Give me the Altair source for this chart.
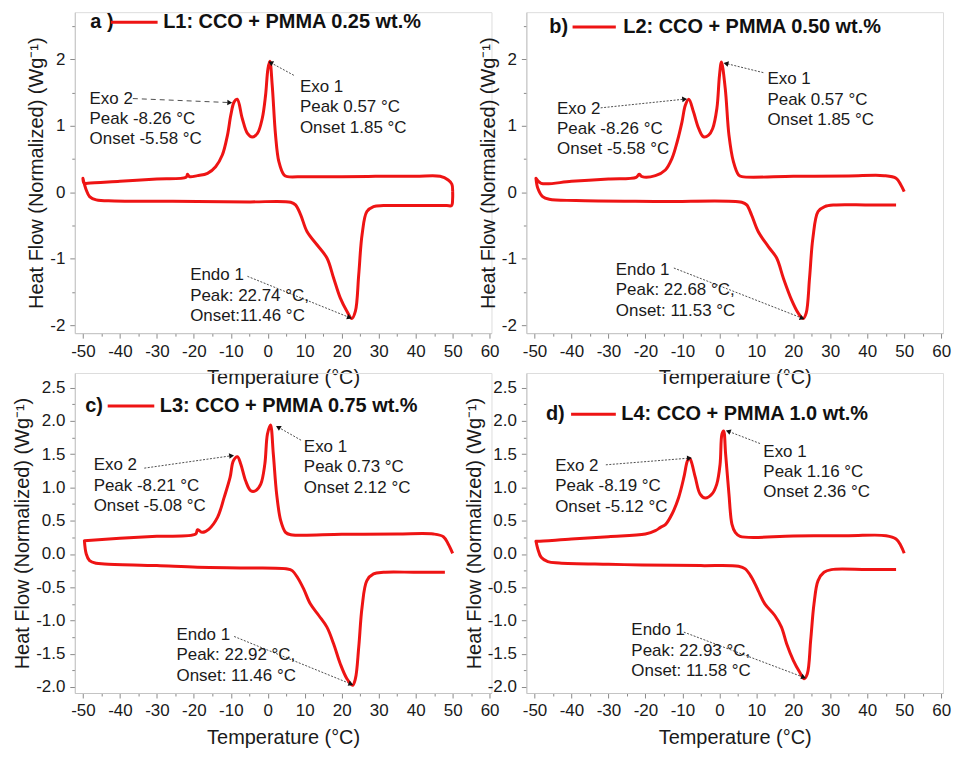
import math
import altair as alt
import pandas as pd

FONT = "Liberation Sans"
RED = "#ee1414"

# ---------------- data ----------------
# Panel a  (L1: 0.25 wt.%)
A_COOL_T = [50.0, 49.8, 48.8, 46.6, 40, 30, 20, 10, 5.3, 4.4, 3.0, 2.1, 1.2, 0.57, 0.05, -0.6, -1.5, -2.8, -4.2, -5.5, -6.9, -8.26, -9.1, -10.0, -10.9, -12.3, -14.1, -16.3, -19.0, -21.2, -21.7, -22.1, -30, -40, -48.7, -49.7, -50.0]
A_COOL_HF = [0.01, 0.12, 0.185, 0.24, 0.24, 0.24, 0.235, 0.235, 0.235, 0.26, 0.46, 0.86, 1.61, 1.97, 1.86, 1.46, 1.11, 0.885, 0.83, 0.885, 1.11, 1.40, 1.36, 1.16, 0.86, 0.56, 0.385, 0.285, 0.25, 0.235, 0.27, 0.225, 0.2, 0.165, 0.135, 0.135, 0.21]
A_HEAT_T = [-50.0, -49.1, -48.2, -46.4, -41.5, -30, -19, -5, 6.2, 7.5, 8.9, 10.6, 13.3, 16.0, 17.8, 19.6, 21.4, 22.74, 23.7, 24.6, 25.5, 26.8, 28.6, 31.3, 40, 48.4, 49.7, 50.0, 50.0]
A_HEAT_HF = [0.21, 0.035, -0.065, -0.115, -0.13, -0.135, -0.14, -0.145, -0.15, -0.19, -0.34, -0.59, -0.79, -0.99, -1.29, -1.59, -1.79, -1.90, -1.79, -1.24, -0.64, -0.29, -0.215, -0.2, -0.2, -0.2, -0.2, -0.09, 0.01]

# Panel b  (L2: 0.50 wt.%)
B_COOL_T = [50.0, 49.1, 47.8, 44.6, 35, 20, 6.1, 5.2, 3.8, 2.6, 1.6, 0.57, 0.04, -0.67, -1.8, -2.9, -4.3, -5.6, -7.0, -8.26, -9.2, -10.1, -11.4, -12.8, -14.6, -17.3, -20.9, -21.7, -22.5, -30, -40, -48.2, -49.6]
B_COOL_HF = [0.01, 0.11, 0.21, 0.25, 0.245, 0.24, 0.235, 0.26, 0.46, 0.86, 1.56, 1.96, 1.76, 1.26, 0.96, 0.86, 0.835, 0.96, 1.21, 1.40, 1.31, 1.06, 0.76, 0.51, 0.335, 0.25, 0.235, 0.27, 0.225, 0.2, 0.165, 0.135, 0.21]
B_HEAT_T = [-49.6, -49.1, -47.8, -46.0, -38.8, -16.4, 6.05, 7.4, 8.7, 10.5, 13.2, 15.5, 17.3, 19.5, 21.3, 22.68, 23.5, 24.4, 25.3, 26.7, 28.5, 31.2, 40, 47.8]
B_HEAT_HF = [0.21, 0.06, -0.065, -0.105, -0.125, -0.14, -0.15, -0.19, -0.34, -0.59, -0.815, -0.99, -1.29, -1.615, -1.815, -1.90, -1.815, -1.29, -0.69, -0.29, -0.215, -0.19, -0.19, -0.19]

# Panel c  (L3: 0.75 wt.%)
C_COOL_T = [50.0, 48.8, 47.5, 44.8, 35, 20, 6.2, 4.8, 3.5, 2.4, 1.5, 0.73, -0.1, -0.8, -1.9, -3.3, -4.6, -6.0, -7.3, -8.21, -9.3, -10.2, -11.8, -13.6, -15.9, -17.7, -19.0, -19.5, -30, -40, -49.6]
C_COOL_HF = [0.01, 0.15, 0.26, 0.30, 0.30, 0.295, 0.29, 0.325, 0.5, 0.9, 1.5, 1.94, 1.8, 1.35, 1.05, 0.95, 0.95, 1.1, 1.35, 1.46, 1.4, 1.15, 0.85, 0.55, 0.375, 0.325, 0.365, 0.3, 0.265, 0.235, 0.2]
C_HEAT_T = [-49.6, -49.1, -48.2, -46.4, -44.2, -30, -19, -5, 5.3, 6.6, 8.0, 9.7, 11.5, 13.8, 16.0, 17.8, 19.6, 21.4, 22.92, 23.7, 24.6, 25.5, 26.8, 28.6, 31.3, 40, 47.9]
C_HEAT_HF = [0.2, 0.0, -0.1, -0.14, -0.15, -0.175, -0.2, -0.21, -0.225, -0.25, -0.35, -0.525, -0.75, -0.925, -1.1, -1.35, -1.65, -1.875, -1.975, -1.875, -1.4, -0.8, -0.4, -0.3, -0.275, -0.275, -0.275]

# Panel d  (L4: 1.0 wt.%)
D_COOL_T = [50.0, 49.1, 47.8, 45.1, 35, 20, 5.6, 4.3, 3.4, 2.6, 1.7, 1.16, 0.7, 0.2, -0.7, -2.0, -3.8, -5.2, -6.5, -7.8, -8.19, -8.7, -9.6, -11.0, -12.8, -14.6, -15.9, -17.3, -20.0, -30, -40, -49.1, -49.6]
D_COOL_HF = [0.01, 0.125, 0.225, 0.275, 0.275, 0.27, 0.265, 0.325, 0.45, 0.9, 1.5, 1.85, 1.8, 1.35, 1.05, 0.9, 0.84, 0.9, 1.15, 1.42, 1.44, 1.39, 1.15, 0.85, 0.6, 0.44, 0.4, 0.35, 0.3, 0.26, 0.225, 0.19, 0.19]
D_HEAT_T = [-49.6, -49.1, -48.2, -46.4, -43.3, -30, -20.9, -5, 5.2, 7.0, 8.7, 10.5, 12.3, 15.0, 16.8, 18.2, 20.0, 21.7, 22.93, 23.8, 24.7, 25.6, 26.7, 28.3, 30.3, 40, 47.8]
D_HEAT_HF = [0.19, 0.075, -0.05, -0.115, -0.135, -0.155, -0.165, -0.175, -0.185, -0.225, -0.35, -0.55, -0.75, -0.925, -1.1, -1.35, -1.6, -1.775, -1.875, -1.8, -1.3, -0.75, -0.4, -0.275, -0.235, -0.235, -0.235]

PANEL_LABELS = ["a )", "b)", "c)", "d)"]
SERIES_NAMES = ["L1: CCO + PMMA 0.25 wt.%", "L2: CCO + PMMA 0.50 wt.%",
                "L3: CCO + PMMA 0.75 wt.%", "L4: CCO + PMMA 1.0 wt.%"]

# annotation text blocks
EXO2_TEXT = ["Exo 2\nPeak -8.26 °C\nOnset -5.58 °C", "Exo 2\nPeak -8.26 °C\nOnset -5.58 °C",
             "Exo 2\nPeak -8.21 °C\nOnset -5.08 °C", "Exo 2\nPeak -8.19 °C\nOnset -5.12 °C"]
EXO1_TEXT = ["Exo 1\nPeak 0.57 °C\nOnset 1.85 °C", "Exo 1\nPeak 0.57 °C\nOnset 1.85 °C",
             "Exo 1\nPeak 0.73 °C\nOnset 2.12 °C", "Exo 1\nPeak 1.16 °C\nOnset 2.36 °C"]
ENDO_TEXT = ["Endo 1\nPeak: 22.74 °C,\nOnset:11.46 °C", "Endo 1\nPeak: 22.68 °C,\nOnset: 11.53 °C",
             "Endo 1\nPeak: 22.92 °C,\nOnset: 11.46 °C", "Endo 1\nPeak: 22.93 °C,\nOnset: 11.58 °C"]

# annotation anchors (left edge, centre of first line) in data units
EXO2_POS = [(-48.2, 1.41), (-43.9, 1.26), (-47.1, 1.335), (-44.4, 1.325)]
EXO1_POS = [(8.7, 1.585), (13.0, 1.70), (9.75, 1.61), (11.9, 1.54)]
ENDO_POS = [(-21.0, -1.25), (-28.0, -1.165), (-24.7, -1.215), (-23.8, -1.15)]

# arrows: (T start, HF start, T end, HF end)
EXO2_ARROW = [(-36.5, 1.41, -10.5, 1.35), (-32.1, 1.27, -9.6, 1.40), (-33.4, 1.29, -10.0, 1.475), (-30.7, 1.34, -8.3, 1.44)]
EXO1_ARROW = [(7.05, 1.76, 0.95, 1.945), (11.9, 1.80, 2.0, 1.935), (9.0, 1.71, 3.0, 1.90), (11.0, 1.66, 2.6, 1.84)]
ENDO_ARROW = [(-5.5, -1.265, 21.9, -1.88), (-12.3, -1.14, 22.2, -1.89), (-9.1, -1.24, 22.3, -1.95), (-9.6, -1.175, 22.6, -1.85)]

# panel titles: label left T, HF, legend line T start/end, series text left T
TITLE_POS = [(-48.0, 2.56, -42.4, -29.8, -28.3), (-46.0, 2.485, -39.7, -28.0, -26.0),
             (-49.4, 2.225, -43.3, -30.7, -29.2), (-46.9, 2.10, -40.1, -28.0, -26.5)]

CURVES = [(A_COOL_T, A_COOL_HF, A_HEAT_T, A_HEAT_HF),
          (B_COOL_T, B_COOL_HF, B_HEAT_T, B_HEAT_HF),
          (C_COOL_T, C_COOL_HF, C_HEAT_T, C_HEAT_HF),
          (D_COOL_T, D_COOL_HF, D_HEAT_T, D_HEAT_HF)]

# ---------------- layout ----------------
W = 418
X_DOM = [-52.2, 60.5]
Y_DOMS = [[-2.12, 2.71], [-2.12, 2.71], [-2.09, 2.72], [-2.09, 2.72]]
HEIGHTS = [322, 322, 321, 321]

TICK_COLOR = "#8a8a8a"
DOMAIN_COLOR = "#c4c4c4"
LABEL_COLOR = "#1a1a1a"


def make_panel(k):
    ydom = Y_DOMS[k]
    h = HEIGHTS[k]
    top_row = k < 2
    sx = W / (X_DOM[1] - X_DOM[0])
    sy = h / (ydom[1] - ydom[0])

    xs = alt.Scale(domain=X_DOM, nice=False, zero=False)
    ys = alt.Scale(domain=ydom, nice=False, zero=False)

    x_axis = alt.Axis(
        values=list(range(-50, 61, 5)), format="d",
        labelExpr="datum.value % 10 === 0 ? replace(datum.label, '\u2212', '-') : ''",
        tickSize={"condition": {"test": "datum.value % 10 !== 0", "value": 3}, "value": 5},
        grid=False, labelFont=FONT, labelFontSize=17, labelColor=LABEL_COLOR,
        titleFont=FONT, titleFontSize=20, titleFontWeight="normal", titleColor=LABEL_COLOR,
        tickColor=TICK_COLOR, domainColor=DOMAIN_COLOR, labelPadding=5, titlePadding=9,
        labelOverlap=False, labelFlush=False)
    if top_row:
        yvals = [-2, -1.5, -1, -0.5, 0, 0.5, 1, 1.5, 2, 2.5]
        ylabel_expr = "datum.value % 1 === 0 ? replace(datum.label, '\u2212', '-') : ''"
        ytick_test = "datum.value % 1 !== 0"
        yfmt = ".0f"
    else:
        yvals = [round(-2 + 0.25 * i, 2) for i in range(19)]
        ylabel_expr = "round(datum.value * 4) % 2 === 0 ? replace(datum.label, '\u2212', '-') : ''"
        ytick_test = "round(datum.value * 4) % 2 !== 0"
        yfmt = ".1f"
    y_axis = alt.Axis(
        values=yvals, format=yfmt, labelExpr=ylabel_expr,
        tickSize={"condition": {"test": ytick_test, "value": 3}, "value": 5},
        grid=False, labelFont=FONT, labelFontSize=17, labelColor=LABEL_COLOR,
        titleFont=FONT, titleFontSize=20, titleFontWeight="normal", titleColor=LABEL_COLOR,
        tickColor=TICK_COLOR, domainColor=DOMAIN_COLOR, labelPadding=5, titlePadding=3,
        labelOverlap=False, labelFlush=False)

    X = alt.X("T:Q", scale=xs, axis=x_axis, title="Temperature (°C)")
    Y = alt.Y("HF:Q", scale=ys, axis=y_axis, title="Heat Flow (Normalized) (Wg⁻¹)")

    ct, ch, ht, hh = CURVES[k]
    T = list(ct) + list(ht)
    HF = list(ch) + list(hh)
    curve_df = pd.DataFrame({"T": T, "HF": HF, "i": list(range(len(T)))})
    curve = alt.Chart(curve_df).mark_line(
        color=RED, strokeWidth=3, interpolate="catmull-rom", strokeJoin="round"
    ).encode(x=X, y=Y, order="i:Q")

    # annotation text
    ann_df = pd.DataFrame({
        "T": [EXO2_POS[k][0], EXO1_POS[k][0], ENDO_POS[k][0]],
        "HF": [EXO2_POS[k][1], EXO1_POS[k][1], ENDO_POS[k][1]],
        "txt": [EXO2_TEXT[k], EXO1_TEXT[k], ENDO_TEXT[k]],
    })
    ann = alt.Chart(ann_df).mark_text(
        align="left", baseline="middle", font=FONT, fontSize=17, color="#1a1a1a",
        lineBreak="\n", lineHeight=20.5
    ).encode(x=X, y=Y, text="txt:N")

    # arrows
    arrows = [EXO2_ARROW[k], EXO1_ARROW[k], ENDO_ARROW[k]]
    dash = ["long" if k == 0 else "fine", "fine", "fine"]
    ar_rows = []
    for (x1, y1, x2, y2), d in zip(arrows, dash):
        dxp = (x2 - x1) * sx
        dyp = -(y2 - y1) * sy
        ang = math.degrees(math.atan2(dxp, -dyp)) % 360
        ar_rows.append({"T": x1, "HF": y1, "T2": x2, "HF2": y2, "dash": d, "ang": ang})
    ar_df = pd.DataFrame(ar_rows)
    rules = alt.Chart(ar_df).mark_rule(color="#3a3a3a", strokeWidth=0.9).encode(
        x=X, y=Y, x2="T2:Q", y2="HF2:Q",
        strokeDash=alt.StrokeDash("dash:N", legend=None,
                                  scale=alt.Scale(domain=["long", "fine"], range=[[5, 4], [2, 1.5]])))
    heads = alt.Chart(ar_df).mark_point(shape="triangle", filled=True, size=32, color="#111111",
                                        opacity=1, strokeWidth=0).encode(
        x=alt.X("T2:Q", scale=xs, axis=x_axis, title="Temperature (°C)"),
        y=alt.Y("HF2:Q", scale=ys, axis=y_axis, title="Heat Flow (Normalized) (Wg⁻¹)"),
        angle=alt.Angle("ang:Q", scale=None))

    # panel title with legend swatch
    lx, ly, l1, l2, tx = TITLE_POS[k]
    lab_df = pd.DataFrame({"T": [lx, tx], "HF": [ly, ly], "txt": [PANEL_LABELS[k], SERIES_NAMES[k]]})
    labels = alt.Chart(lab_df).mark_text(
        align="left", baseline="middle", font=FONT, fontSize=20, fontWeight="bold", color="#111111"
    ).encode(x=X, y=Y, text="txt:N")
    sw_df = pd.DataFrame({"T": [l1], "T2": [l2], "HF": [ly]})
    swatch = alt.Chart(sw_df).mark_rule(color=RED, strokeWidth=3).encode(x=X, x2="T2:Q", y=Y)

    return alt.layer(rules, curve, heads, ann, labels, swatch).properties(width=W, height=h)


panels = [make_panel(k) for k in range(4)]

chart = alt.concat(
    *panels, columns=2, spacing={"row": 40, "column": 35}, bounds="flush"
).properties(
    padding={"left": 4, "top": 2, "right": 0, "bottom": 0}
).configure_view(stroke=None).configure(background="white")

chart.save("out.html", embed_options={"renderer": "svg", "actions": False})
